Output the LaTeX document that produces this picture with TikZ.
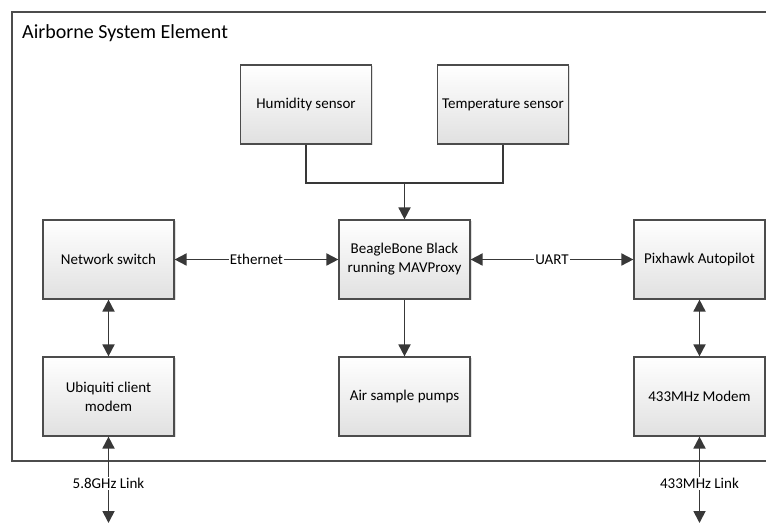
\documentclass[tikz,border=0pt]{standalone}
\usepackage{fontspec}
\setmainfont{Carlito}
\usetikzlibrary{arrows.meta,shadows}
\tikzset{
  block/.style={draw=black!70, line width=1.2pt, top color=white, bottom color=black!12,
    drop shadow={shadow xshift=1.5pt, shadow yshift=-1.5pt, opacity=0.25},
    minimum width=131pt, minimum height=79pt, align=center, inner sep=2pt,
    font=\fontsize{15}{19}\selectfont},
  link/.style={draw=black!78, line width=1.8pt, -{Triangle[length=12pt,width=12pt]}},
  dlink/.style={link, {Triangle[length=12pt,width=12pt]}-{Triangle[length=12pt,width=12pt]}},
  linklabel/.style={fill=white, inner sep=1pt, font=\fontsize{15}{18}\selectfont}
}
\begin{document}
\begin{tikzpicture}[x=1pt,y=1pt]
  \useasboundingbox (0,0) rectangle (766,-526);
  % outer frame
  \draw[draw=black!70, line width=1.2pt, fill=white,
    drop shadow={shadow xshift=1.5pt, shadow yshift=-1.5pt, opacity=0.2}] (12,-12) rectangle (770,-461);
  \node[anchor=west, inner sep=0pt, font=\fontsize{20}{24}\selectfont] (title) at (22,-33) {Airborne System Element};
  % sensors
  \node[block] (hum) at (306,-104.5) {Humidity sensor};
  \node[block] (temp) at (503,-104.5) {Temperature sensor};
  % middle row
  \node[block] (net) at (108.5,-259.5) {Network switch};
  \node[block] (bbb) at (404.5,-259.5) {BeagleBone Black\\running MAVProxy};
  \node[block] (pix) at (699.5,-259.5) {Pixhawk Autopilot};
  % bottom row
  \node[block] (ubi) at (108.5,-396.5) {Ubiquiti client\\modem};
  \node[block] (air) at (404.5,-396.5) {Air sample pumps};
  \node[block] (modem) at (699.5,-396.5) {433MHz Modem};
  \coordinate (junc) at (404.5,-183);
  \coordinate (ubiend) at (108.5,-523);
  \coordinate (modemend) at (699.5,-523);
  \draw[draw=black!78, line width=1.8pt] (hum.south) |- (junc) -| (temp.south);
  \draw[link] (junc) -- (bbb.north);
  \draw[dlink] (net.east) -- node[linklabel] {Ethernet} (bbb.west);
  \draw[dlink] (bbb.east) -- node[linklabel] {UART} (pix.west);
  \draw[link] (bbb.south) -- (air.north);
  \draw[dlink] (net.south) -- (ubi.north);
  \draw[dlink] (pix.south) -- (modem.north);
  \draw[dlink] (ubi.south) -- node[linklabel, pos=0.54] {5.8GHz Link} (ubiend);
  \draw[dlink] (modem.south) -- node[linklabel, pos=0.54] {433MHz Link} (modemend);
\end{tikzpicture}
\end{document}
